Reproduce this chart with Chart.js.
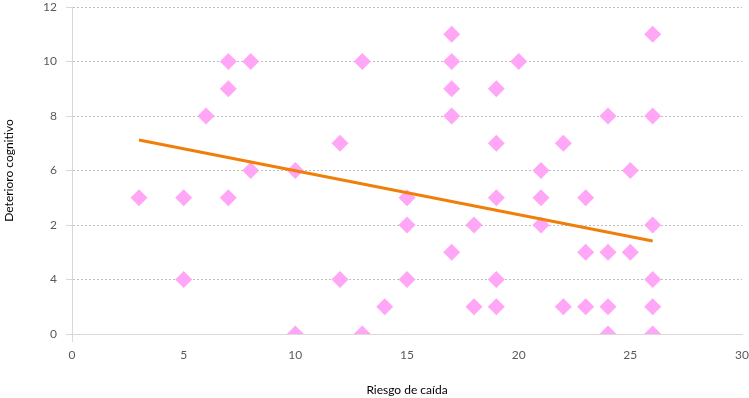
<!DOCTYPE html>
<html lang="es">
<head>
    <meta charset="UTF-8">
    <title>Riesgo de caída vs Deterioro cognitivo</title>
    <script src="https://cdn.jsdelivr.net/npm/chart.js"></script>
    <style>
        html, body { margin: 0; padding: 0; background: #fff; }
        #wrap { width: 749px; height: 398px; }
    </style>
</head>
<body>
<div id="wrap"><canvas id="chart" width="749" height="398"></canvas></div>
<script>
// data
const riesgoCaida = [3, 5, 5, 6, 7, 7, 7, 8, 8, 10, 10, 12, 12, 13, 13, 14, 15, 15, 15,
    17, 17, 17, 17, 17, 18, 18, 19, 19, 19, 19, 19, 20, 21, 21, 21, 22, 22,
    23, 23, 23, 24, 24, 24, 24, 25, 25, 26, 26, 26, 26, 26, 26];
const deterioro = [5, 5, 2, 8, 10, 9, 5, 10, 6, 6, 0, 7, 2, 10, 0, 1, 5, 4, 2,
    11, 10, 9, 8, 3, 4, 1, 9, 7, 5, 2, 1, 10, 6, 5, 4, 7, 1,
    5, 3, 1, 8, 3, 1, 0, 6, 3, 11, 8, 4, 2, 1, 0];
// trend line as drawn in the picture (start and end)
const trendX = [3, 26];
const trendY = [7.12, 3.41];
// tick labels as printed on the axes (one per gridline, bottom to top / left to right)
const yTickLabels = ['0', '4', '2', '6', '8', '10', '12'];
const xTickLabels = ['0', '5', '10', '15', '20', '25', '30'];

const points = riesgoCaida.map((x, i) => ({ x: x, y: deterioro[i] }));
const trend = trendX.map((x, i) => ({ x: x, y: trendY[i] }));

const fontFam = 'Lato, "Open Sans", sans-serif';

new Chart(document.getElementById('chart'), {
    type: 'scatter',
    data: {
        datasets: [
            {
                type: 'line',
                data: trend,
                borderColor: '#F07F09',
                borderWidth: 3,
                pointRadius: 0,
                fill: false,
                order: 0
            },
            {
                data: points,
                pointStyle: 'rectRot',
                pointRadius: 8.5,
                pointBackgroundColor: '#FFA6F7',
                pointBorderWidth: 0,
                borderWidth: 0,
                order: 1
            }
        ]
    },
    options: {
        responsive: false,
        animation: false,
        layout: { autoPadding: false, padding: 0 },
        plugins: {
            legend: { display: false },
            tooltip: { enabled: false }
        },
        scales: {
            x: {
                type: 'linear',
                min: 0,
                max: 30,
                afterFit: (s) => {
                    s.height = 64;
                    s.paddingLeft = 0;
                    s.paddingRight = 7;
                },
                ticks: {
                    stepSize: 5,
                    padding: 6,
                    color: '#595959',
                    font: { family: fontFam, size: 12 },
                    callback: (v) => xTickLabels[v / 5]
                },
                grid: {
                    drawOnChartArea: false,
                    tickLength: 8,
                    color: (c) => (c.tick && c.tick.value === 0 ? '#d9d9d9' : 'transparent')
                },
                border: { color: '#d9d9d9', width: 1 },
                title: {
                    display: true,
                    text: 'Riesgo de caída',
                    color: '#000',
                    font: { family: fontFam, size: 12 },
                    padding: { top: 1, bottom: 1 }
                }
            },
            y: {
                min: 0,
                max: 12,
                afterFit: (s) => {
                    s.width = 72;
                    s.paddingTop = 7;
                    s.paddingBottom = 0;
                },
                ticks: {
                    stepSize: 2,
                    padding: 9,
                    color: '#595959',
                    font: { family: fontFam, size: 12 },
                    callback: (v) => yTickLabels[v / 2]
                },
                grid: {
                    color: '#bfbfbf',
                    tickLength: 6,
                    tickColor: '#d9d9d9'
                },
                border: { color: '#d9d9d9', width: 1, dash: [2, 2] },
                title: {
                    display: true,
                    text: 'Deterioro cognitivo',
                    color: '#000',
                    font: { family: fontFam, size: 12 },
                    padding: { top: 2, bottom: 0 }
                }
            }
        }
    }
});
</script>
</body>
</html>
